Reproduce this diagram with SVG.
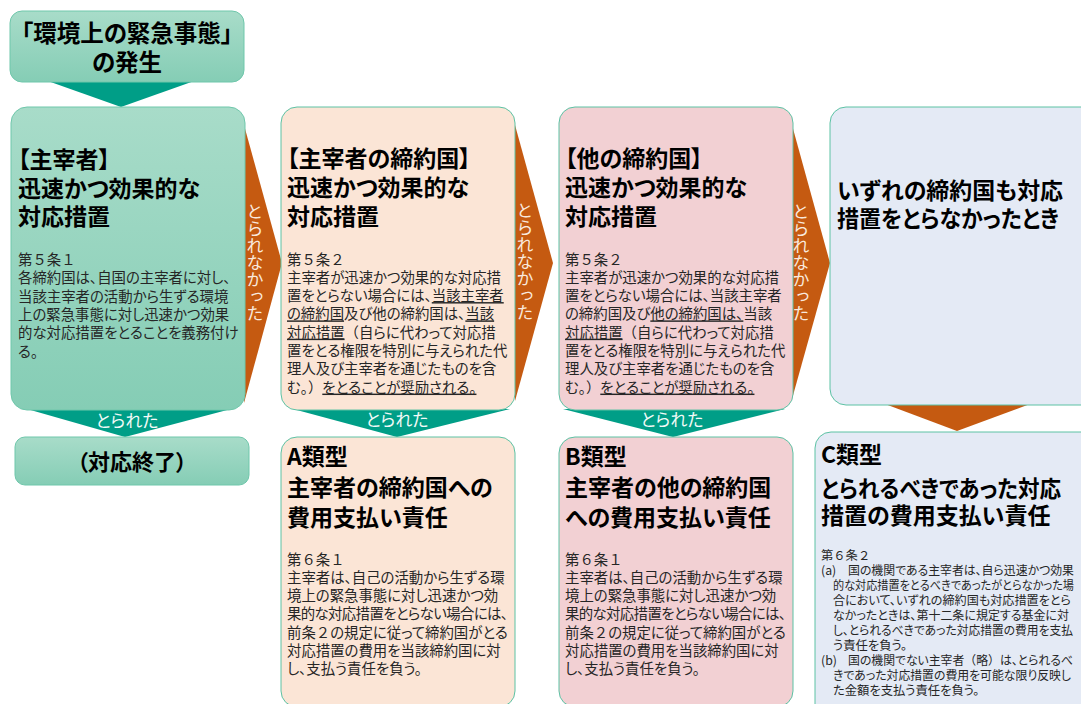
<svg xmlns="http://www.w3.org/2000/svg" width="1081" height="704" viewBox="0 0 1081 704">
<style>
text{font-family:"Noto Sans CJK JP","Noto Sans",sans-serif;font-feature-settings:"palt";}
.h{font-size:23px;font-weight:700;fill:#000;}
.t{font-size:23.5px;font-weight:700;fill:#000;text-anchor:middle;}
.b{font-size:14.4px;fill:#262626;}
.s{font-size:12.3px;fill:#262626;}
.n{font-feature-settings:normal;}
.u{text-decoration:underline;}
.lbl{font-size:17px;fill:#f2faf7;text-anchor:middle;}
.vl{font-size:17px;fill:#f9e9dd;writing-mode:vertical-rl;text-anchor:middle;font-feature-settings:normal;}
.g{fill:url(#gg);stroke:#6fc7ab;stroke-width:1;}
.p{fill:#fbe5d6;stroke:#5cc2a4;stroke-width:1;}
.r{fill:#f2d0d3;stroke:#5cc2a4;stroke-width:1;}
.bl{fill:#e4eaf5;stroke:#5cc2a4;stroke-width:1;}
.teal{fill:#009e87;}
.or{fill:#c55a11;}
</style>
<defs>
<linearGradient id="gg" x1="0" y1="0" x2="0" y2="1">
<stop offset="0" stop-color="#a8dcc9"/>
<stop offset="1" stop-color="#85cdb5"/>
</linearGradient>
</defs>

<g id="connectors">
<polygon class="teal" points="45,80 197,80 121,107"/>
<polygon class="or" points="244,125 282,263 244,403"/>
<polygon class="or" points="515,125 553,263 515,401"/>
<polygon class="or" points="792,125 830,263 792,399"/>
<polygon class="teal" points="27,409 231,409 125,437"/>
<polygon class="teal" points="293,409 510,409 397,437"/>
<polygon class="teal" points="563,409 785,409 673,437"/>
<polygon class="or" points="885,404 1030,404 957,431"/>
<text class="vl" x="255" y="263">とられなかった</text>
<text class="vl" x="525" y="262">とられなかった</text>
<text class="vl" x="801" y="263">とられなかった</text>
<text class="lbl" x="127" y="427">とられた</text>
<text class="lbl" x="397" y="426">とられた</text>
<text class="lbl" x="672" y="426">とられた</text>
</g>

<g id="start">
<rect class="g" x="10" y="11" width="234" height="71" rx="12"/>
<text class="t" x="127" y="42">「環境上の緊急事態」</text>
<text class="t" x="127" y="71">の発生</text>
</g>

<g id="organizer">
<rect class="g" x="11" y="107" width="234" height="303" rx="16"/>
<text class="h" x="18" y="168">【主宰者】</text>
<text class="h" x="18" y="196.5">迅速かつ効果的な</text>
<text class="h" x="18" y="225">対応措置</text>
<text class="b n" x="18" y="265">第５条１</text>
<text class="b" x="18" y="283.3">各締約国は、自国の主宰者に対し、</text>
<text class="b" x="18" y="301.6">当該主宰者の活動から生ずる環境</text>
<text class="b" x="18" y="319.9">上の緊急事態に対し迅速かつ効果</text>
<text class="b" x="18" y="338.2">的な対応措置をとることを義務付け</text>
<text class="b" x="18" y="356.5">る。</text>
</g>

<g id="end">
<rect class="g" x="15" y="437" width="234" height="48" rx="10"/>
<text class="t" x="132" y="469.5" style="font-size:22px">（対応終了）</text>
</g>

<g id="party">
<rect class="p" x="281" y="107" width="234" height="303" rx="16"/>
<text class="h" x="287" y="167">【主宰者の締約国】</text>
<text class="h" x="287" y="196">迅速かつ効果的な</text>
<text class="h" x="287" y="225">対応措置</text>
<text class="b n" x="287" y="264.5">第５条２</text>
<text class="b" x="287" y="282.8">主宰者が迅速かつ効果的な対応措</text>
<text class="b" x="287" y="301.1">置をとらない場合には、<tspan class="u">当該主宰者</tspan></text>
<text class="b" x="287" y="319.4"><tspan class="u">の締約国</tspan>及び他の締約国は、<tspan class="u">当該</tspan></text>
<text class="b" x="287" y="337.7"><tspan class="u">対応措置</tspan><tspan class="n">（</tspan>自らに代わって対応措</text>
<text class="b" x="287" y="356">置をとる権限を特別に与えられた代</text>
<text class="b" x="287" y="374.3">理人及び主宰者を通じたものを含</text>
<text class="b" x="287" y="392.6">む。<tspan class="n">）</tspan><tspan class="u">をとることが奨励される。</tspan></text>
</g>

<g id="other">
<rect class="r" x="559" y="107" width="234" height="303" rx="16"/>
<text class="h" x="565" y="167">【他の締約国】</text>
<text class="h" x="565" y="196">迅速かつ効果的な</text>
<text class="h" x="565" y="225">対応措置</text>
<text class="b n" x="565" y="264.5">第５条２</text>
<text class="b" x="565" y="282.8">主宰者が迅速かつ効果的な対応措</text>
<text class="b" x="565" y="301.1">置をとらない場合には、当該主宰者</text>
<text class="b" x="565" y="319.4">の締約国及び<tspan class="u">他の締約国は、</tspan>当該</text>
<text class="b" x="565" y="337.7"><tspan class="u">対応措置</tspan><tspan class="n">（</tspan>自らに代わって対応措</text>
<text class="b" x="565" y="356">置をとる権限を特別に与えられた代</text>
<text class="b" x="565" y="374.3">理人及び主宰者を通じたものを含</text>
<text class="b" x="565" y="392.6">む。<tspan class="n">）</tspan><tspan class="u">をとることが奨励される。</tspan></text>
</g>

<g id="none">
<rect class="bl" x="830" y="107" width="280" height="298" rx="16"/>
<text class="h" x="837" y="199" textLength="226" lengthAdjust="spacingAndGlyphs">いずれの締約国も対応</text>
<text class="h" x="837" y="227" textLength="222" lengthAdjust="spacingAndGlyphs">措置をとらなかったとき</text>
</g>

<g id="typeA">
<rect class="p" x="281" y="437" width="234" height="270" rx="16"/>
<text class="h" x="287" y="465">A類型</text>
<text class="h" x="287" y="496">主宰者の締約国への</text>
<text class="h" x="287" y="526">費用支払い責任</text>
<text class="b n" x="287" y="564.5">第６条１</text>
<text class="b" x="287" y="582.8">主宰者は、自己の活動から生ずる環</text>
<text class="b" x="287" y="601.1">境上の緊急事態に対し迅速かつ効</text>
<text class="b" x="287" y="619.4" textLength="221">果的な対応措置をとらない場合には、</text>
<text class="b" x="287" y="637.7">前条<tspan class="n">２</tspan>の規定に従って締約国がとる</text>
<text class="b" x="287" y="656">対応措置の費用を当該締約国に対</text>
<text class="b" x="287" y="674.3">し、支払う責任を負う。</text>
</g>

<g id="typeB">
<rect class="r" x="559" y="437" width="234" height="270" rx="16"/>
<text class="h" x="565" y="465">B類型</text>
<text class="h" x="565" y="496">主宰者の他の締約国</text>
<text class="h" x="565" y="526">への費用支払い責任</text>
<text class="b n" x="565" y="564.5">第６条１</text>
<text class="b" x="565" y="582.8">主宰者は、自己の活動から生ずる環</text>
<text class="b" x="565" y="601.1">境上の緊急事態に対し迅速かつ効</text>
<text class="b" x="565" y="619.4" textLength="221">果的な対応措置をとらない場合には、</text>
<text class="b" x="565" y="637.7">前条<tspan class="n">２</tspan>の規定に従って締約国がとる</text>
<text class="b" x="565" y="656">対応措置の費用を当該締約国に対</text>
<text class="b" x="565" y="674.3">し、支払う責任を負う。</text>
</g>

<g id="typeC">
<rect class="bl" x="815" y="432" width="290" height="290" rx="16"/>
<text class="h" x="821" y="463">C類型</text>
<text class="h" x="821" y="497" textLength="240" lengthAdjust="spacingAndGlyphs">とられるべきであった対応</text>
<text class="h" x="821" y="524">措置の費用支払い責任</text>
<text class="s n" x="821" y="559.7">第６条２</text>
<text class="s" x="821" y="574.7">(a)</text>
<text class="s" x="848" y="574.7" textLength="226" lengthAdjust="spacingAndGlyphs">国の機関である主宰者は、自ら迅速かつ効果</text>
<text class="s" x="833" y="589.7" textLength="241" lengthAdjust="spacingAndGlyphs">的な対応措置をとるべきであったがとらなかった場</text>
<text class="s" x="833" y="604.7" textLength="238" lengthAdjust="spacingAndGlyphs">合において、いずれの締約国も対応措置をとら</text>
<text class="s" x="833" y="619.7" textLength="236" lengthAdjust="spacingAndGlyphs">なかったときは、第十二条に規定する基金に対</text>
<text class="s" x="833" y="634.7" textLength="240" lengthAdjust="spacingAndGlyphs">し、とられるべきであった対応措置の費用を支払</text>
<text class="s" x="833" y="649.7">う責任を負う。</text>
<text class="s" x="821" y="664.7">(b)</text>
<text class="s" x="848" y="664.7" textLength="225" lengthAdjust="spacingAndGlyphs">国の機関でない主宰者<tspan class="n">（</tspan>略<tspan class="n">）</tspan>は、とられるべ</text>
<text class="s" x="833" y="679.7" textLength="238" lengthAdjust="spacingAndGlyphs">きであった対応措置の費用を可能な限り反映し</text>
<text class="s" x="833" y="694.7">た金額を支払う責任を負う。</text>
</g>
</svg>
